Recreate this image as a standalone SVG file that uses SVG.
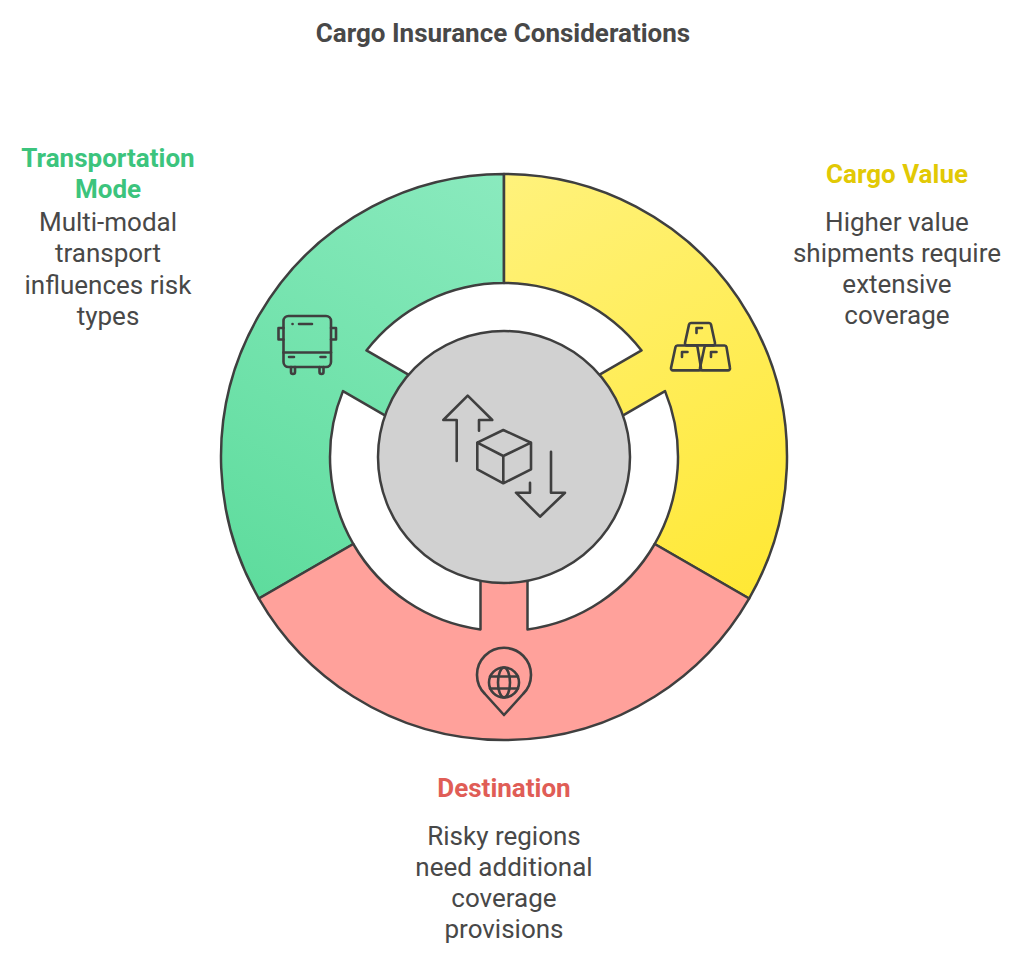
<svg xmlns="http://www.w3.org/2000/svg" width="1024" height="961" viewBox="0 0 1024 961">
<defs>
<linearGradient id="gGreen" gradientUnits="userSpaceOnUse" x1="504" y1="174" x2="258" y2="598">
<stop offset="0" stop-color="#8aeabe"/><stop offset="1" stop-color="#5edc9d"/>
</linearGradient>
<linearGradient id="gYellow" gradientUnits="userSpaceOnUse" x1="504" y1="174" x2="749" y2="598">
<stop offset="0" stop-color="#fff27c"/><stop offset="1" stop-color="#ffe835"/>
</linearGradient>
<style>
.seg{stroke:#3f3f3f;stroke-width:2.5;stroke-linejoin:round}
.ico{fill:none;stroke:#3f3f3f;stroke-width:2.6;stroke-linecap:round;stroke-linejoin:round}
.t{font-family:Roboto,"Liberation Sans",sans-serif;text-anchor:middle}
.title{font-size:26px;font-weight:700;fill:#484848}
.head{font-size:26px;font-weight:700}
.body{font-size:26px;fill:#484848}
</style>
</defs>
<rect width="1024" height="961" fill="#ffffff"/>
<text class="t title" x="503" y="42">Cargo Insurance Considerations</text>

<g id="segment-transportation">
<path class="seg" fill="url(#gGreen)" d="M258.915,598.5 A283,283 0 0 1 504,174 L504,283 A174,174 0 0 0 366.45,350.45 L416.16,379.15 L392.66,419.85 L342.95,391.15 A174,174 0 0 0 353.312,544 Z"/>
<g class="ico">
<rect x="283.5" y="316" width="47.5" height="51" rx="5"/>
<path d="M283.5,328 H278.5 V339.5 H283.5"/>
<path d="M331,328 H336 V339.5 H331"/>
<path d="M283.5,352.5 H331"/>
<path d="M292.5,324 h0.1 M299,324 H312"/>
<path d="M289,357 H294 M320.5,357 H325.5"/>
<path d="M291,367 V372 a2,2 0 0 0 4,0 V367 M319.5,367 V372 a2,2 0 0 0 4,0 V367"/>
</g>
</g>

<g id="segment-cargo-value">
<path class="seg" fill="url(#gYellow)" d="M504,174 A283,283 0 0 1 749.085,598.5 L654.688,544 A174,174 0 0 0 665.05,391.15 L615.34,419.85 L591.84,379.15 L641.55,350.45 A174,174 0 0 0 504,283 Z"/>
<g class="ico">
<path d="M691,323 H709 a2,2 0 0 1 2,1.6 L715,343 a2,2 0 0 1 -2,2.4 H687 a2,2 0 0 1 -2,-2.4 L689,324.6 a2,2 0 0 1 2,-1.6 Z"/>
<path d="M677.5,345.5 H695.5 a2,2 0 0 1 2,1.6 L701,368 a2,2 0 0 1 -2,2.4 H673 a2,2 0 0 1 -2,-2.4 L675.5,347.1 a2,2 0 0 1 2,-1.6 Z"/>
<path d="M706.5,345.5 H724.5 a2,2 0 0 1 2,1.6 L730,368 a2,2 0 0 1 -2,2.4 H702 a2,2 0 0 1 -2,-2.4 L704.5,347.1 a2,2 0 0 1 2,-1.6 Z"/>
<path d="M696.5,333 V328 H702"/>
<path d="M682,357 V352 H687.5"/>
<path d="M711,357 V352 H716.5"/>
</g>
</g>

<g id="segment-destination">
<path class="seg" fill="#ffa19b" d="M749.085,598.5 A283,283 0 0 1 258.915,598.5 L353.312,544 A174,174 0 0 0 480.5,629.4 L480.5,572 L527.5,572 L527.5,629.4 A174,174 0 0 0 654.688,544 Z"/>
<g class="ico">
<path d="M504,715 L485,694 A27,27 0 1 1 523,694 Z"/>
<circle cx="504" cy="682.5" r="15"/>
<ellipse cx="504" cy="682.5" rx="6" ry="15"/>
<path d="M490,676.5 H518 M490,688.5 H518"/>
</g>
</g>

<g id="center">
<circle cx="504" cy="457" r="126" fill="#d1d1d1" stroke="#3f3f3f" stroke-width="2.5"/>
<g class="ico">
<path d="M456.7,461 V420 H443.3 L467.7,395.7 L492.3,420 H479 V430.7"/>
<path d="M503.3,430 L531,442.7 V469.3 L503.3,483.3 L477.3,469.3 V442.7 Z M477.3,442.7 L503.3,456 L531,442.7 M503.3,456 V483.3"/>
<path d="M551,451.7 V492.7 H565 L540,516.7 L516,492.7 H530 V482.7"/>
</g>
</g>

<g id="label-transportation">
<text class="t head" fill="#3cc47d" x="108" y="167">Transportation</text>
<text class="t head" fill="#3cc47d" x="108" y="198">Mode</text>
<text class="t body" x="108" y="231">Multi-modal</text>
<text class="t body" x="108" y="262">transport</text>
<text class="t body" x="108" y="294">influences risk</text>
<text class="t body" x="108" y="325">types</text>
</g>

<g id="label-cargo-value">
<text class="t head" fill="#e2c905" x="897" y="183">Cargo Value</text>
<text class="t body" x="897" y="231">Higher value</text>
<text class="t body" x="897" y="262">shipments require</text>
<text class="t body" x="897" y="293">extensive</text>
<text class="t body" x="897" y="324">coverage</text>
</g>

<g id="label-destination">
<text class="t head" fill="#e05d56" x="504" y="797">Destination</text>
<text class="t body" x="504" y="845">Risky regions</text>
<text class="t body" x="504" y="876">need additional</text>
<text class="t body" x="504" y="907">coverage</text>
<text class="t body" x="504" y="938">provisions</text>
</g>
</svg>
